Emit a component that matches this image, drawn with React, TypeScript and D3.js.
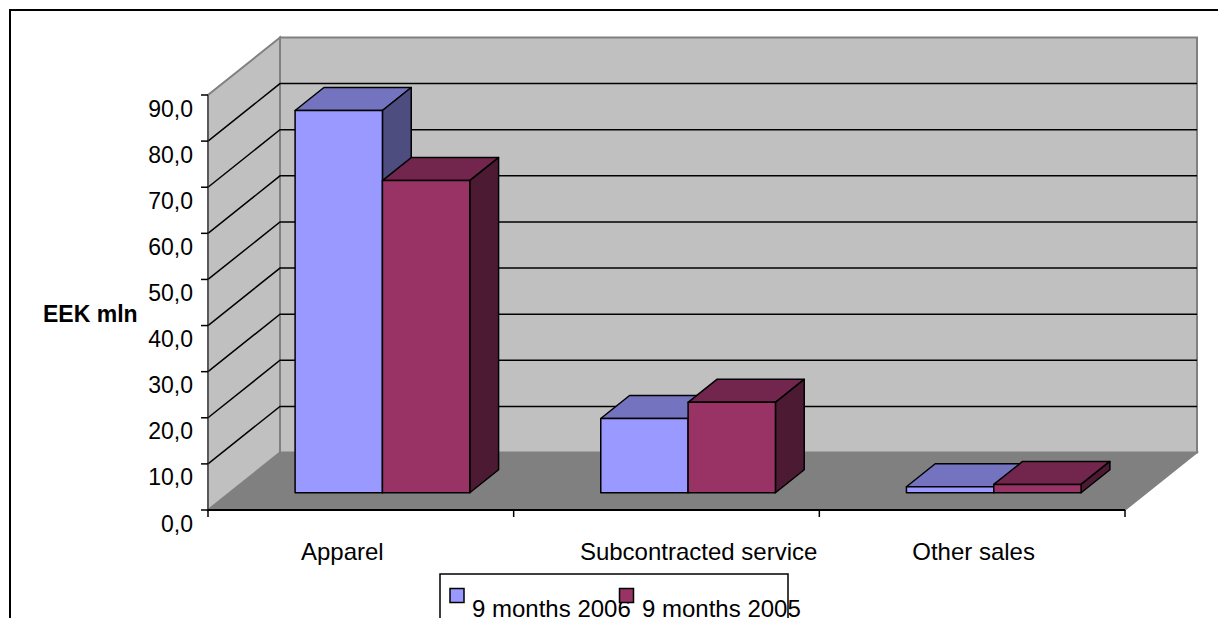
import React from 'react';
import * as d3 from 'd3';

const categories = ['Apparel', 'Subcontracted service', 'Other sales'];
const seriesNames = ['9 months 2006', '9 months 2005'];
const values2006 = [82.9, 16.1, 1.3];
const values2005 = [67.7, 19.6, 1.8];
const yTickValues = [0, 10, 20, 30, 40, 50, 60, 70, 80, 90];
const yAxisTitle = 'EEK mln';

const W = 1218;
const H = 618;
const FONT = "'Liberation Sans', Arial, sans-serif";

// plot geometry (front plane)
const X0 = 208;
const X1 = 1125;
const DX = 72;
const DY = 57.5;
const D0 = 0.3;
const D1 = 0.7;

const faceColors = [
  { front: '#9999FF', top: '#7373BF', side: '#4D4D80' },
  { front: '#993366', top: '#73264D', side: '#4D1A33' },
];

let measureCtx: CanvasRenderingContext2D | null = null;
function textWidth(s: string, size: number): number {
  if (!measureCtx) {
    const cv = document.createElement('canvas');
    measureCtx = cv.getContext('2d');
  }
  if (!measureCtx) return s.length * size * 0.5;
  measureCtx.font = `${size}px 'Liberation Sans', Arial, sans-serif`;
  return measureCtx.measureText(s).width;
}

export default function App() {
  const y = d3.scaleLinear().domain([0, 90]).range([510, 95]);
  const xBand = d3.scaleBand<string>().domain(categories).range([X0, X1]);
  const bw = xBand.bandwidth();
  const groupW = (bw * 2) / 3.5;
  const xSeries = d3.scaleBand<string>().domain(seriesNames).range([0, groupW]);

  const proj = (x: number, v: number, d: number): [number, number] => [x + d * DX, y(v) - d * DY];
  const poly = (pts: [number, number][]) => pts.map((p) => p.join(',')).join(' ');
  const fmt = (v: number) => d3.format('.1f')(v).replace('.', ',');

  const series = [values2006, values2005];

  const bars: JSX.Element[] = [];
  categories.forEach((c, ci) => {
    const gx = (xBand(c) as number) + (bw - groupW) / 2;
    seriesNames.forEach((s, si) => {
      const v = series[si][ci];
      const x0 = gx + (xSeries(s) as number);
      const x1 = x0 + xSeries.bandwidth();
      const col = faceColors[si];
      const front = [proj(x0, 0, D0), proj(x1, 0, D0), proj(x1, v, D0), proj(x0, v, D0)];
      const top = [proj(x0, v, D0), proj(x1, v, D0), proj(x1, v, D1), proj(x0, v, D1)];
      const side = [proj(x1, 0, D0), proj(x1, 0, D1), proj(x1, v, D1), proj(x1, v, D0)];
      bars.push(
        <g key={c + s}>
          <polygon points={poly(top)} fill={col.top} stroke="#000" strokeWidth={1.5} strokeLinejoin="round" />
          <polygon points={poly(side)} fill={col.side} stroke="#000" strokeWidth={1.5} strokeLinejoin="round" />
          <polygon points={poly(front)} fill={col.front} stroke="#000" strokeWidth={1.5} strokeLinejoin="round" />
        </g>
      );
    });
  });

  const floor = [proj(X0, 0, 0), proj(X1, 0, 0), proj(X1, 0, 1), proj(X0, 0, 1)];
  const backWall = [proj(X0, 0, 1), proj(X1, 0, 1), proj(X1, 90, 1), proj(X0, 90, 1)];
  const sideWall = [proj(X0, 0, 0), proj(X0, 0, 1), proj(X0, 90, 1), proj(X0, 90, 0)];

  const grid = yTickValues.filter((v) => v > 0 && v < 90);

  const catLabelX = (c: string) => {
    const start = (xBand(c) as number) + bw * 0.304;
    const end = (xBand(c) as number) + bw - 2;
    const w = textWidth(c, 24);
    return Math.min(start, end - w);
  };

  return (
    <svg width={W} height={H} style={{ position: 'absolute', left: 0, top: 0, background: '#fff' }}>
      <rect x={10} y={10} width={1220} height={700} fill="#fff" stroke="#000" strokeWidth={2} />
      {/* walls */}
      <polygon points={poly(floor)} fill="#808080" stroke="#808080" strokeWidth={1.5} />
      <polygon points={poly(backWall)} fill="#C0C0C0" stroke="#808080" strokeWidth={2} />
      <polygon points={poly(sideWall)} fill="#C0C0C0" stroke="#808080" strokeWidth={2} />
      {grid.map((v) => {
        const a = proj(X0, v, 0);
        const b = proj(X0, v, 1);
        const c = proj(X1, v, 1);
        return (
          <g key={'g' + v}>
            <polyline points={poly([a, b, c])} fill="none" stroke="#000" strokeWidth={1.5} />
          </g>
        );
      })}
      {/* value axis */}
      <line x1={X0} x2={X0} y1={y(0)} y2={y(90)} stroke="#333" strokeWidth={1} />
      {yTickValues.map((v) => (
        <g key={'t' + v}>
          <line x1={X0 - 7} x2={X0} y1={y(v)} y2={y(v)} stroke="#000" strokeWidth={1.5} />
          <text x={193} y={y(v) + 21.5} textAnchor="end" fontFamily={FONT} fontSize={23} fill="#000">
            {fmt(v)}
          </text>
        </g>
      ))}
      {/* category axis */}
      <line x1={X0} x2={X1} y1={y(0)} y2={y(0)} stroke="#000" strokeWidth={2} />
      {[...categories.map((c) => xBand(c) as number), X1].map((x, i) => (
        <line key={'ct' + i} x1={x} x2={x} y1={y(0)} y2={y(0) + 7} stroke="#000" strokeWidth={1.5} />
      ))}
      {bars}
      {categories.map((c) => (
        <text key={'cl' + c} x={catLabelX(c)} y={560} fontFamily={FONT} fontSize={24} fill="#000">
          {c}
        </text>
      ))}
      <text x={43} y={322} fontFamily={FONT} fontSize={23} fontWeight="bold" fill="#000">
        {yAxisTitle}
      </text>
      {/* legend */}
      <rect x={440} y={574} width={348} height={80} fill="#fff" stroke="#000" strokeWidth={1.5} />
      {seriesNames.map((s, i) => (
        <g key={'lg' + s}>
          <rect x={450 + i * 169.5} y={588.5} width={14} height={14} fill={faceColors[i].front} stroke="#000" strokeWidth={1.5} />
          <text x={472 + i * 170} y={617} fontFamily={FONT} fontSize={24} fill="#000">
            {s}
          </text>
        </g>
      ))}
    </svg>
  );
}
